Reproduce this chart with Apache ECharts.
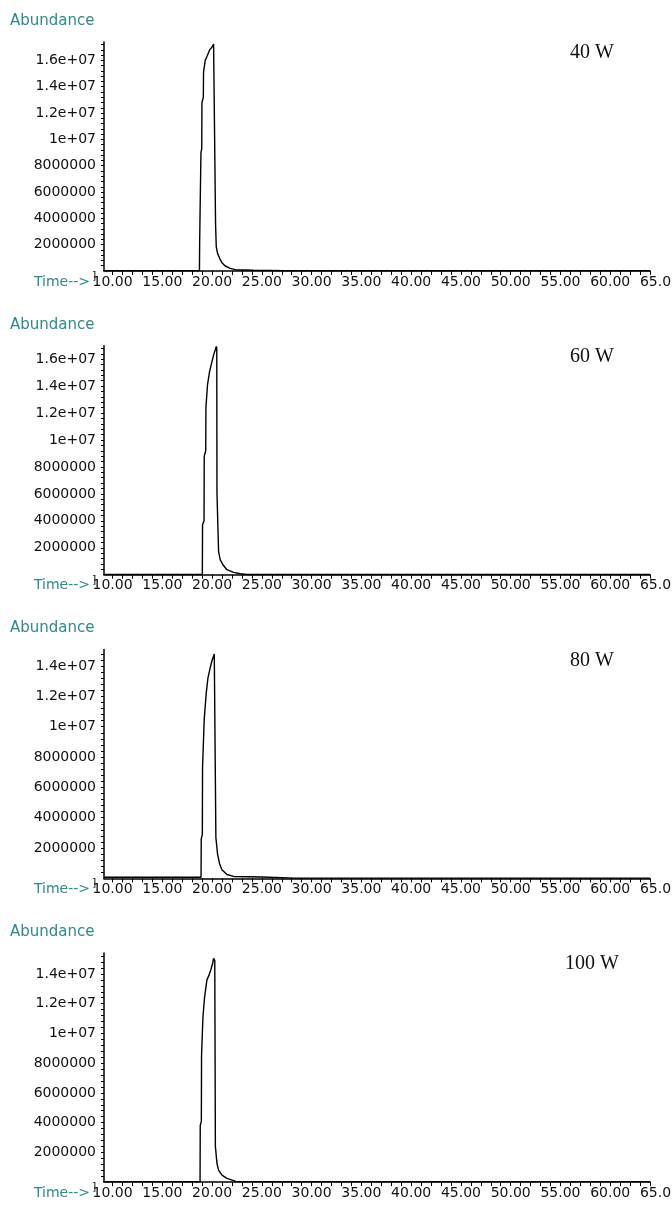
<!DOCTYPE html>
<html>
<head>
<meta charset="utf-8">
<script src="https://cdn.jsdelivr.net/npm/echarts@6/dist/echarts.min.js"></script>
<style>
html,body{margin:0;padding:0;background:#fff;}
#c{width:672px;height:1209px;}
</style>
</head>
<body>
<div id="c"></div>
<script>
// ---- data (Abundance vs Time, min) ----
const PANEL_LABELS = ['40 W', '60 W', '80 W', '100 W'];
const Y_MAX = [17400000, 17000000, 15100000, 15400000];
const Y_LABELS_A = [2000000, 4000000, 6000000, 8000000, 10000000, 12000000, 14000000, 16000000];
const Y_LABELS_B = [2000000, 4000000, 6000000, 8000000, 10000000, 12000000, 14000000];
const X_LABELS = [10, 15, 20, 25, 30, 35, 40, 45, 50, 55, 60, 65];
const X_MIN = 9.14, X_END = 64.0, X_LABEL_MAX = 65;

const T40 = [9.14, 9.7, 9.8, 9.9, 12.7, 12.8, 12.9, 14.5, 14.6, 14.7, 18.73, 18.75, 18.86, 18.88, 18.96, 18.98, 19.12, 19.14, 19.31, 19.48, 19.75, 19.98, 20.15, 20.26, 20.33, 20.35, 20.42, 20.55, 20.75, 20.99, 21.32, 21.83, 22.33, 24.17, 24.35, 27.35, 27.46, 27.57, 28.27, 28.37, 28.47, 29.1, 29.2, 29.3, 64.0];
const A40 = [20000, 20000, 90000, 20000, 20000, 80000, 20000, 20000, 70000, 20000, 20000, 2200000, 2300000, 9000000, 9300000, 12800000, 13200000, 15100000, 16000000, 16300000, 16800000, 17000000, 17250000, 17350000, 17200000, 3500000, 1840000, 1340000, 960000, 630000, 380000, 200000, 100000, 60000, 20000, 20000, 150000, 20000, 20000, 120000, 20000, 20000, 140000, 20000, 20000];

const T60 = [9.14, 19.02, 19.04, 19.19, 19.21, 19.36, 19.38, 19.54, 19.75, 19.98, 20.15, 20.32, 20.42, 20.47, 20.49, 20.65, 20.82, 21.09, 21.49, 22.16, 22.83, 23.5, 36.4, 36.5, 36.6, 40.9, 41.0, 41.1, 44.2, 44.3, 44.4, 55.4, 55.5, 55.6, 64.0];
const A60 = [20000, 20000, 3700000, 4000000, 8800000, 9200000, 12400000, 14100000, 15100000, 15800000, 16300000, 16700000, 16950000, 16800000, 6100000, 1730000, 1100000, 740000, 370000, 170000, 70000, 20000, 20000, 70000, 20000, 20000, 60000, 20000, 20000, 60000, 20000, 20000, 70000, 20000, 20000];

const T80 = [9.14, 18.89, 18.91, 19.02, 19.04, 19.21, 19.41, 19.58, 19.81, 20.01, 20.22, 20.32, 20.36, 20.38, 20.55, 20.75, 20.99, 21.49, 22.16, 25.0, 25.05, 28.27, 28.37, 28.47, 64.0];
const A80 = [80000, 80000, 2600000, 2900000, 7300000, 10500000, 12200000, 13200000, 13900000, 14400000, 14800000, 14860000, 14700000, 2700000, 1600000, 970000, 570000, 260000, 130000, 90000, 20000, 20000, 100000, 20000, 20000];

const T100 = [9.14, 18.79, 18.81, 18.92, 18.94, 19.08, 19.24, 19.48, 19.68, 19.88, 20.05, 20.15, 20.27, 20.29, 20.33, 20.49, 20.65, 20.99, 21.49, 22.16, 22.5, 64.0];
const A100 = [20000, 20000, 3800000, 4100000, 8500000, 11100000, 12400000, 13600000, 13900000, 14300000, 14700000, 15040000, 14900000, 10700000, 2400000, 1260000, 800000, 470000, 250000, 100000, 20000, 20000];

const TIMES = [T40, T60, T80, T100];
const ABUND = [A40, A60, A80, A100];
const Y_LABELS = [Y_LABELS_A, Y_LABELS_A, Y_LABELS_B, Y_LABELS_B];

// ---- layout ----
const PANEL_STEP = 303.7;
const GRID_TOP = 42, GRID_H = 229, GRID_LEFT = 104, LABEL_RIGHT = 12;
const TEAL = '#2e8b8b';
const FONT = '"DejaVu Sans", sans-serif';
// same px-per-minute in the plot grid and in the label grid
const labelWidth = 672 - GRID_LEFT - LABEL_RIGHT;
const pxPerMin = labelWidth / (X_LABEL_MAX - X_MIN);
const PLOT_RIGHT = 672 - GRID_LEFT - pxPerMin * (X_END - X_MIN);

function yFmt(v) {
  if (v >= 10000000) { return (Math.round(v / 1000000) / 10) + 'e+07'; }
  return String(v);
}

const xTicks = [];
for (let t = 10; t <= 64; t++) xTicks.push(t);

const grids = [], xAxes = [], yAxes = [], series = [], graphics = [];
for (let k = 0; k < 4; k++) {
  const o = PANEL_STEP * k;
  // plot grid (index 2k) and label-only grid (index 2k+1)
  grids.push({ left: GRID_LEFT, right: PLOT_RIGHT, top: GRID_TOP + o, height: GRID_H, containLabel: false, outerBoundsMode: 'none' });
  grids.push({ left: GRID_LEFT, right: LABEL_RIGHT, top: GRID_TOP + o, height: GRID_H, containLabel: false, outerBoundsMode: 'none' });

  xAxes.push({
    gridIndex: 2 * k, type: 'value', min: X_MIN, max: X_END,
    axisLine: { show: true, onZero: false, lineStyle: { color: '#000', width: 1.5 } },
    axisTick: { show: true, customValues: xTicks, length: 4, inside: false, lineStyle: { color: '#000', width: 1 } },
    axisLabel: { show: false },
    splitLine: { show: false }
  });
  xAxes.push({
    gridIndex: 2 * k + 1, type: 'value', min: X_MIN, max: X_LABEL_MAX,
    axisLine: { show: false }, axisTick: { show: false },
    axisLabel: { customValues: X_LABELS, formatter: v => Number(v).toFixed(2), color: '#111', fontFamily: FONT, fontSize: 14, margin: 4, hideOverlap: false },
    splitLine: { show: false }
  });

  const yt = [];
  for (let v = 400000; v <= Y_MAX[k]; v += 400000) yt.push(v);
  yAxes.push({
    gridIndex: 2 * k, type: 'value', min: 0, max: Y_MAX[k],
    axisLine: { show: true, onZero: false, lineStyle: { color: '#000', width: 1.5 } },
    axisTick: { show: true, customValues: yt, length: 3, inside: false, lineStyle: { color: '#000', width: 1 } },
    axisLabel: { customValues: Y_LABELS[k], formatter: yFmt, color: '#111', fontFamily: FONT, fontSize: 14, margin: 8, hideOverlap: false },
    splitLine: { show: false }
  });
  yAxes.push({
    gridIndex: 2 * k + 1, type: 'value', min: 0, max: Y_MAX[k], show: false,
    splitLine: { show: false }
  });

  const data = TIMES[k].map((t, i) => [t, ABUND[k][i]]);
  series.push({
    type: 'line', xAxisIndex: 2 * k, yAxisIndex: 2 * k, data: data,
    showSymbol: false, symbol: 'none', smooth: false,
    lineStyle: { color: '#000', width: 1.4 }, clip: true
  });
  graphics.push(
    { type: 'text', x: 10, y: 21 + o, style: { text: 'Abundance', font: '15px ' + FONT, fill: TEAL, textAlign: 'left', textVerticalAlign: 'middle', align: 'left', verticalAlign: 'middle' } },
    { type: 'text', x: 90, y: 282 + o, style: { text: 'Time-->', font: '14px ' + FONT, fill: TEAL, textAlign: 'right', textVerticalAlign: 'middle', align: 'right', verticalAlign: 'middle' } },
    { type: 'text', x: 92, y: 276 + o, style: { text: ']', font: '11px ' + FONT, fill: '#111', textAlign: 'left', textVerticalAlign: 'middle', align: 'left', verticalAlign: 'middle' } },
    { type: 'text', x: 592, y: 53 + o, style: { text: PANEL_LABELS[k], font: '20px "Liberation Serif", serif', fill: '#111', textAlign: 'center', textVerticalAlign: 'middle', align: 'center', verticalAlign: 'middle' } }
  );
}

const chart = echarts.init(document.getElementById('c'), null, { renderer: 'canvas' });
chart.setOption({
  animation: false,
  backgroundColor: '#fff',
  grid: grids, xAxis: xAxes, yAxis: yAxes, series: series,
  graphic: graphics
});
</script>
</body>
</html>
